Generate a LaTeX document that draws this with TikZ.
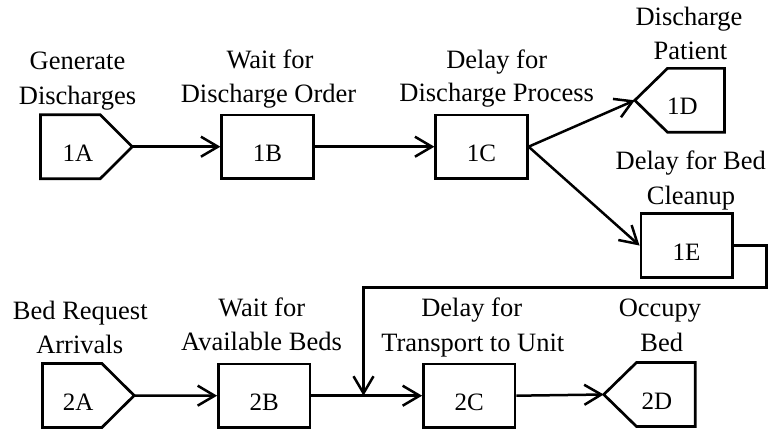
\documentclass[tikz,border=0pt]{standalone}
\usepackage{fontspec}
\setmainfont{Liberation Serif}
\usetikzlibrary{arrows.meta,calc}

\tikzset{
  blk/.style={draw, line width=2.7pt, rectangle, minimum width=91.5pt,
    minimum height=63.5pt, inner sep=0pt,
    font=\fontsize{25}{25}\selectfont, text height=29pt, text depth=0pt},
  pentbody/.style={rectangle, minimum height=63.5pt, inner sep=0pt},
  outline/.style={draw, line width=2.7pt, line join=miter},
  num/.style={inner sep=0pt, font=\fontsize{25}{25}\selectfont,
    text height=29pt, text depth=0pt},
  lbl/.style={anchor=base, inner sep=0pt, font=\fontsize{26.5}{30}\selectfont},
  flow/.style={line width=2.5pt,
    -{Straight Barb[length=17pt,width=20pt,line width=2.5pt]}},
}

\begin{document}
\begin{tikzpicture}[x=1pt,y=-1pt]
\useasboundingbox (0,0) rectangle (770,431);

% ---- row 1: discharge process ----
\node[pentbody, minimum width=59.3pt] (a1) at (70.4,146.7) {};
\coordinate (a1tip) at ([xshift=32pt]a1.east);
\draw[outline] (a1.north west) -- (a1.north east) -- (a1tip)
  -- (a1.south east) -- (a1.south west) -- cycle;
\node[num] (a1txt) at ([xshift=7.6pt]a1.center) {1A};

\node[blk] (b1) at (267.5,146.7) {1B};
\node[blk] (c1) at (481.5,146.7) {1C};

\node[pentbody, minimum width=56.6pt] (d1) at (696,100.3) {};
\coordinate (d1tip) at ([xshift=-32.7pt]d1.west);
\draw[outline] (d1.north east) -- (d1.north west) -- (d1tip)
  -- (d1.south west) -- (d1.south east) -- cycle;
\node[num] (d1txt) at ([xshift=-13.5pt]d1.center) {1D};

\node[blk] (e1) at (686.6,245.5) {1E};

% ---- row 2: bed requests ----
\node[pentbody, minimum width=59pt] (a2) at (72.2,395.5) {};
\coordinate (a2tip) at ([xshift=32.3pt]a2.east);
\draw[outline] (a2.north west) -- (a2.north east) -- (a2tip)
  -- (a2.south east) -- (a2.south west) -- cycle;
\node[num] (a2txt) at ([xshift=6pt]a2.center) {2A};

\node[blk] (b2) at (264.2,395.7) {2B};
\node[blk] (c2) at (469.2,395.7) {2C};

\node[pentbody, minimum width=58.3pt] (d2) at (665.8,394.5) {};
\coordinate (d2tip) at ([xshift=-32.7pt]d2.west);
\draw[outline] (d2.north east) -- (d2.north west) -- (d2tip)
  -- (d2.south west) -- (d2.south east) -- cycle;
\node[num] (d2txt) at ([xshift=-9pt]d2.center) {2D};

% ---- labels ----
\node[lbl] (la1a) at (77.5,69.5) {Generate};
\node[lbl] (la1b) at (77.5,104.5) {Discharges};
\node[lbl] (lb1a) at (270,68.3) {Wait for};
\node[lbl] (lb1b) at (268.5,102.7) {Discharge Order};
\node[lbl] (lc1a) at (496.7,68.3) {Delay for};
\node[lbl] (lc1b) at (496.7,101.7) {Discharge Process};
\node[lbl] (ld1a) at (689,25) {Discharge};
\node[lbl] (ld1b) at (690.5,59.3) {Patient};
\node[lbl] (le1a) at (690.7,169.3) {Delay for Bed};
\node[lbl] (le1b) at (691,204) {Cleanup};

\node[lbl] (la2a) at (80.3,319.3) {Bed Request};
\node[lbl] (la2b) at (79.7,353.3) {Arrivals};
\node[lbl] (lb2a) at (261.7,316.7) {Wait for};
\node[lbl] (lb2b) at (261.5,350.5) {Available Beds};
\node[lbl] (lc2a) at (471.7,316) {Delay for};
\node[lbl] (lc2b) at (472.8,351.7) {Transport to Unit};
\node[lbl] (ld2a) at (660,316) {Occupy};
\node[lbl] (ld2b) at (661.7,351.7) {Bed};

% ---- connectors ----
\draw[flow] (a1tip) -- (b1.west);
\draw[flow] (b1.east) -- (c1.west);
\draw[flow] (c1.east) -- (d1tip);
\draw[flow] (c1.east) -- (e1.west);

\coordinate (merge) at (363.5,395.7);
\coordinate (rturn) at (766.7,287.5);
\draw[flow] (e1.east) -| (rturn) -| (merge);

\draw[flow] (a2tip) -- (b2.west);
\draw[flow] (b2.east) -- (c2.west);
\draw[flow] (c2.east) -- (d2tip);
\end{tikzpicture}
\end{document}
